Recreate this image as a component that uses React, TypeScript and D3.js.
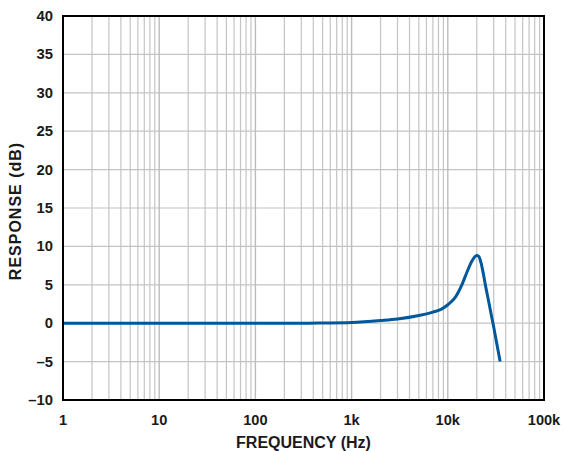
import React from 'react';
import * as d3 from 'd3';

// frequency response (Hz, dB)
const freqs = [1, 10, 100, 300, 500, 1000, 2000, 3000, 5000, 7000, 8500, 10000, 12000, 14000, 16000, 18000, 20000, 21000, 22000, 25000, 30000, 35000];
const response = [0, 0, 0, 0, 0.03, 0.1, 0.35, 0.55, 1.0, 1.45, 1.8, 2.4, 3.4, 5.0, 6.8, 8.2, 8.8, 8.7, 8.0, 4.5, -0.5, -5];

const yTicks = [-10, -5, 0, 5, 10, 15, 20, 25, 30, 35, 40];
const xTicks = [1, 10, 100, 1000, 10000, 100000];
const xTickLabels = ['1', '10', '100', '1k', '10k', '100k'];

const W = 564;
const H = 451;
const margin = { top: 16, right: 20, bottom: 51, left: 63 };

export default function App() {
  const innerW = 544 - margin.left;
  const innerH = 400 - margin.top;

  const x = d3.scaleLog().domain([1, 100000]).range([0, innerW]);
  const y = d3.scaleLinear().domain([-10, 40]).range([innerH, 0]);

  // minor grid: 2..9 in each decade
  const minor: number[] = [];
  for (let d = 0; d < 5; d++) {
    for (let m = 2; m <= 9; m++) minor.push(m * Math.pow(10, d));
  }

  const line = d3.line<number>()
    .x((_, i) => x(freqs[i]))
    .y(d => y(d))
    .curve(d3.curveMonotoneX);

  const font = 'Liberation Sans, Arial, sans-serif';
  const fmt = (v: number) => (v < 0 ? '\u2013' + Math.abs(v) : String(v));

  return (
    <svg width={W} height={H} style={{ position: 'absolute', left: 0, top: 0 }}>
      <rect width={W} height={H} fill="#fff" />
      <g transform={`translate(${margin.left},${margin.top})`}>
        {yTicks.map(t => (
          <line key={'y' + t} x1={0} x2={innerW} y1={y(t)} y2={y(t)} stroke="#c4c4c4" strokeWidth={1.2} />
        ))}
        {minor.map(t => (
          <line key={'m' + t} x1={x(t)} x2={x(t)} y1={0} y2={innerH} stroke="#c4c4c4" strokeWidth={1.2} />
        ))}
        {xTicks.map(t => (
          <line key={'x' + t} x1={x(t)} x2={x(t)} y1={0} y2={innerH} stroke="#bcbcbc" strokeWidth={1.4} />
        ))}
        <path d={line(response) ?? ''} fill="none" stroke="#00589c" strokeWidth={3} strokeLinejoin="round" />
        <rect x={0} y={0} width={innerW} height={innerH} fill="none" stroke="#000" strokeWidth={2} />
        {yTicks.map(t => (
          <text key={'yl' + t} x={-10} y={y(t) + 5} textAnchor="end" fontFamily={font} fontWeight="bold" fontSize={14.8} fill="#1a1a1a">
            {fmt(t)}
          </text>
        ))}
        {xTicks.map((t, i) => (
          <text key={'xl' + t} x={x(t)} y={innerH + 25} textAnchor="middle" fontFamily={font} fontWeight="bold" fontSize={14.6} fill="#1a1a1a">
            {xTickLabels[i]}
          </text>
        ))}
        <text x={innerW / 2} y={innerH + 48} textAnchor="middle" fontFamily={font} fontWeight="bold" fontSize={16} fill="#1a1a1a">
          FREQUENCY (Hz)
        </text>
        <text transform={`translate(${-42},${innerH / 2 + 3}) rotate(-90)`} textAnchor="middle" fontFamily={font} fontWeight="bold" fontSize={16} letterSpacing={1} fill="#1a1a1a">
          RESPONSE (dB)
        </text>
      </g>
    </svg>
  );
}
